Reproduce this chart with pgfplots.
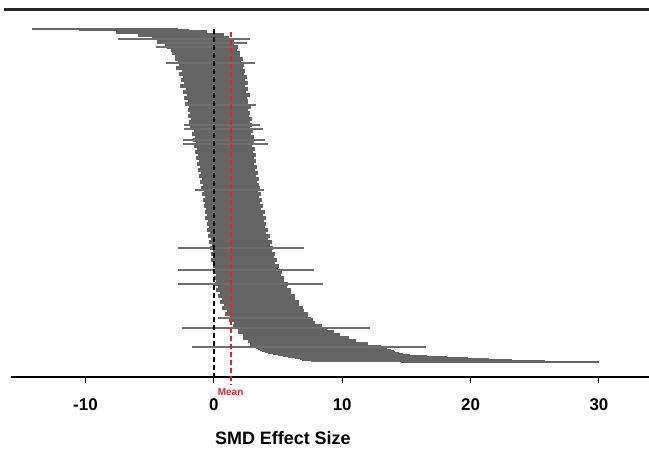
\documentclass[border=0pt]{standalone}
\usepackage{fontspec}
\setmainfont{Liberation Sans}
\setsansfont{Liberation Sans}
\usepackage{pgfplots}
\usepackage{pgfplotstable}
\pgfplotsset{compat=1.18}

\definecolor{barc}{RGB}{100,100,100}
\definecolor{outc}{RGB}{110,110,110}
\definecolor{meanred}{RGB}{215,38,50}
\definecolor{topline}{RGB}{40,40,40}

% one row per study: y (row position), lower and upper CI limit
\pgfplotstableread{
y lo hi
-32 -7.6 -0.5
-35 -5.9 0.8
-38 -4.8 1.2
-41 -4.4 1.55
-44 -3.8 1.6
-47 -3.65 1.85
-50 -3.3 1.8
-53 -3.25 2.05
-56 -3.0 2.0
-59 -3.05 2.25
-62 -2.8 2.1
-65 -2.75 2.35
-68 -2.95 2.3
-71 -2.5 2.45
-74 -2.7 2.35
-77 -2.4 2.55
-80 -2.55 2.4
-83 -2.35 2.7
-86 -2.6 2.45
-89 -2.2 2.65
-92 -2.4 2.5
-95 -2.1 2.8
-98 -2.3 2.55
-101 -2.0 2.7
-104 -2.25 2.65
-107 -1.9 2.9
-110 -2.05 2.7
-113 -1.85 2.85
-116 -2.0 2.75
-119 -1.75 2.95
-122 -1.9 2.8
-125 -1.65 3.0
-128 -1.85 2.85
-131 -1.55 3.05
-134 -1.7 2.9
-137 -1.5 3.15
-140 -1.6 2.95
-143 -1.4 3.1
-146 -1.55 3.0
-149 -1.3 3.2
-152 -1.5 3.05
-155 -1.2 3.3
-158 -1.4 3.1
-161 -1.15 3.25
-164 -1.3 3.15
-167 -1.1 3.4
-170 -1.25 3.2
-173 -1.0 3.45
-176 -1.15 3.3
-179 -0.95 3.55
-182 -1.1 3.35
-185 -0.85 3.5
-188 -1.0 3.6
-191 -0.8 3.45
-194 -0.95 3.7
-197 -0.7 3.55
-200 -0.85 3.75
-203 -0.65 3.6
-206 -0.8 3.85
-209 -0.6 3.7
-212 -0.7 3.95
-215 -0.5 3.8
-218 -0.65 4.05
-221 -0.45 3.9
-224 -0.55 4.1
-227 -0.35 4.0
-230 -0.5 4.25
-233 -0.3 4.1
-236 -0.45 4.35
-239 -0.25 4.25
-242 -0.35 4.5
-245 -0.15 4.4
-248 -0.3 4.6
-251 -0.1 4.5
-254 -0.25 4.75
-257 -0.05 4.65
-260 -0.2 4.9
-263 0.0 4.8
-266 -0.1 5.05
-269 0.1 5.0
-272 -0.05 5.3
-275 0.15 5.25
-278 0.0 5.5
-281 0.2 5.45
-284 0.1 5.75
-287 0.3 5.7
-290 0.2 6.0
-293 0.45 6.05
-296 0.35 6.35
-299 0.6 6.3
-302 0.5 6.65
-305 0.8 6.6
-308 0.6 6.95
-311 1.0 7.0
-314 0.9 7.3
-317 1.25 7.35
-320 1.2 7.75
-323 1.55 7.9
-326 1.5 8.4
-329 1.9 8.8
-332 1.85 9.4
-335 2.25 9.8
-338 2.3 10.5
-341 2.65 11.1
-344 2.8 12.0
-347 3.25 13.0
}\rows

% first and last studies, packed more tightly
\pgfplotstableread{
y lo hi
-29 -14.2 -2.8
-30 -10.5 -1.9
-349 3.45 13.5
-350 3.6 13.8
-351 3.75 14.0
-352 3.95 14.15
-353 4.25 14.4
-354 4.6 14.7
-355 5.0 15.3
-356 5.4 16.6
-357 5.8 18.2
-358 6.3 19.8
-359 6.7 21.4
-360 6.9 23.2
-361 7.6 25.8
-362 14.6 30.0
}\tail

% studies with unusually wide intervals
\pgfplotstableread{
y lo hi
-39 -7.5 2.8
-43 -4.4 2.6
-47 -4.5 1.6
-63 -3.7 3.2
-105 -2.2 3.3
-125 -2.3 3.6
-129 -2.3 3.8
-140 -2.4 4.0
-144 -2.4 4.2
-190 -1.5 3.9
-248 -2.8 7.0
-270 -2.8 7.8
-284 -2.8 8.5
-318 0.3 7.6
-328 -2.5 12.2
-347 -1.7 16.5
}\wide

\begin{document}
\begin{tikzpicture}
\useasboundingbox (0,0) rectangle (649bp,449bp);
\begin{axis}[
  at={(11bp,72bp)}, anchor=south west,
  scale only axis, width=638bp, height=367.5bp,
  xmin=-15.8, xmax=33.9,
  ymin=-377, ymax=-9.5,
  axis x line*=bottom,
  axis y line=none,
  x axis line style={line width=1.2bp, black},
  xtick={-10,0,10,20,30},
  xtick align=outside,
  major tick length=6bp,
  every tick/.style={black, line width=1bp},
  /pgf/number format/assume math mode=true,
  xticklabel style={font=\bfseries\fontsize{17}{17}\selectfont, yshift=-12bp},
  clip=false,
]
  \addplot[draw=none, mark=none,
    error bars/.cd, x dir=plus, x explicit, error mark=none,
    error bar style={draw=barc, line width=3.1bp}]
    table[x=lo, y=y, x error plus expr=\thisrow{hi}-\thisrow{lo}] {\rows};
  \addplot[draw=none, mark=none,
    error bars/.cd, x dir=plus, x explicit, error mark=none,
    error bar style={draw=barc, line width=1.15bp}]
    table[x=lo, y=y, x error plus expr=\thisrow{hi}-\thisrow{lo}] {\tail};
  \addplot[draw=none, mark=none,
    error bars/.cd, x dir=plus, x explicit, error mark=none,
    error bar style={draw=outc, line width=1.8bp}]
    table[x=lo, y=y, x error plus expr=\thisrow{hi}-\thisrow{lo}] {\wide};

  % null line and mean line
  \addplot[black, line width=1.5bp, dash pattern=on 5bp off 3bp] coordinates {(0,-29) (0,-377)};
  \addplot[meanred, line width=1.5bp, dash pattern=on 5bp off 3bp] coordinates {(1.33,-32) (1.33,-385)};
  \node[anchor=west, text=meanred, font=\bfseries\fontsize{10}{10}\selectfont, inner sep=0pt]
    at (axis cs:0.3,-392) {Mean};

  % top border line
  \draw[topline, line width=2.4bp] (axis cs:-16.37,-9.5) -- (axis cs:33.9,-9.5);

  \node[font=\bfseries\fontsize{18}{18}\selectfont] at (axis cs:5.38,-438) {SMD Effect Size};
\end{axis}
\end{tikzpicture}
\end{document}
